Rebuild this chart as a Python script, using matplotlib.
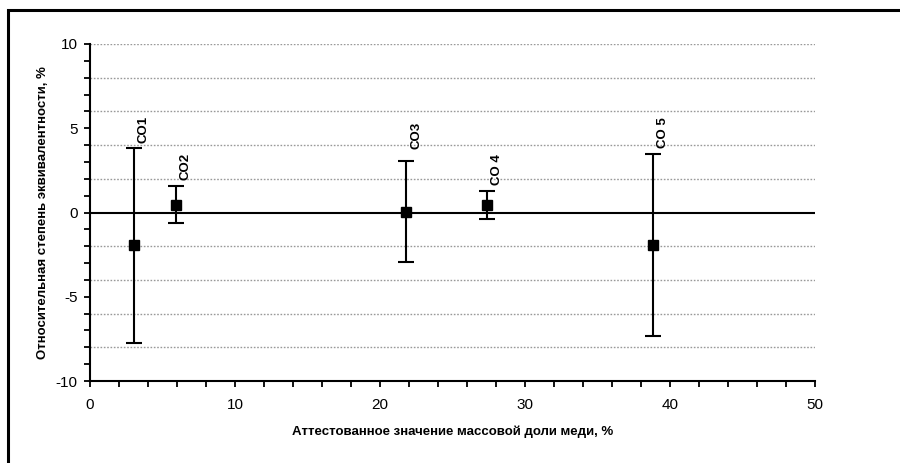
import numpy as np
import matplotlib
matplotlib.use('Agg')
import matplotlib.pyplot as plt
from matplotlib.patches import Rectangle
from matplotlib.ticker import MultipleLocator

plt.rcParams['font.family'] = ['Liberation Sans', 'DejaVu Sans']
plt.rcParams['axes.unicode_minus'] = False

# данные: аттестованное значение, степень эквивалентности, неопределенность
names = ['CO1', 'CO2', 'CO3', 'CO 4', 'CO 5']
cert_value = [3.0, 5.9, 21.8, 27.4, 38.85]
rel_degree = [-1.95, 0.45, 0.05, 0.45, -1.95]
uncertainty = [5.8, 1.1, 3.0, 0.85, 5.4]
label_y = [4.1, 1.95, 3.75, 1.65, 3.85]

fig = plt.figure(figsize=(9, 4.63), dpi=100)
ax = fig.add_axes([0.1, 0.177, 0.8056, 0.728])

# рамка вокруг рисунка
fig.patches.append(Rectangle((0.009, -0.1), 1.2, 1.079, transform=fig.transFigure,
                             fill=False, edgecolor='black', linewidth=2.2))

# пунктирная сетка
for yv in [-8, -6, -4, -2, 2, 4, 6, 8, 10]:
    ax.axhline(yv, color='#999999', linestyle=(0, (1.2, 1.2)), linewidth=1.0, zorder=0)
ax.axhline(0, color='black', linewidth=1.5, zorder=1)

ax.errorbar(cert_value, rel_degree, yerr=uncertainty, fmt='s', color='black',
            markersize=7, ecolor='black', elinewidth=1.5, capsize=6, capthick=1.5, zorder=3)

for x, y, n in zip(cert_value, label_y, names):
    ax.annotate(n, (x, y), xytext=(10, 0), textcoords='offset pixels',
                rotation=90, ha='center', va='bottom', fontsize=9.5, fontweight='bold')

ax.set_xlim(0, 50)
ax.set_ylim(-10, 10)
ax.xaxis.set_major_locator(MultipleLocator(10))
ax.xaxis.set_minor_locator(MultipleLocator(2))
ax.yaxis.set_major_locator(MultipleLocator(5))
ax.yaxis.set_minor_locator(MultipleLocator(1))
ax.tick_params(which='both', direction='out', length=4, width=1.3, labelsize=11, color='black')
ax.tick_params(axis='x', pad=8)
ax.tick_params(axis='y', pad=5)

for s in ['top', 'right']:
    ax.spines[s].set_visible(False)
for s in ['left', 'bottom']:
    ax.spines[s].set_linewidth(1.5)

ax.set_xlabel('Аттестованное значение массовой доли меди, %', fontsize=9.5,
              fontweight='bold', labelpad=10)
ax.set_ylabel('Относительная степень эквивалентности, %', fontsize=9.5,
              fontweight='bold', labelpad=5)

fig.savefig('out.png', dpi=100)
